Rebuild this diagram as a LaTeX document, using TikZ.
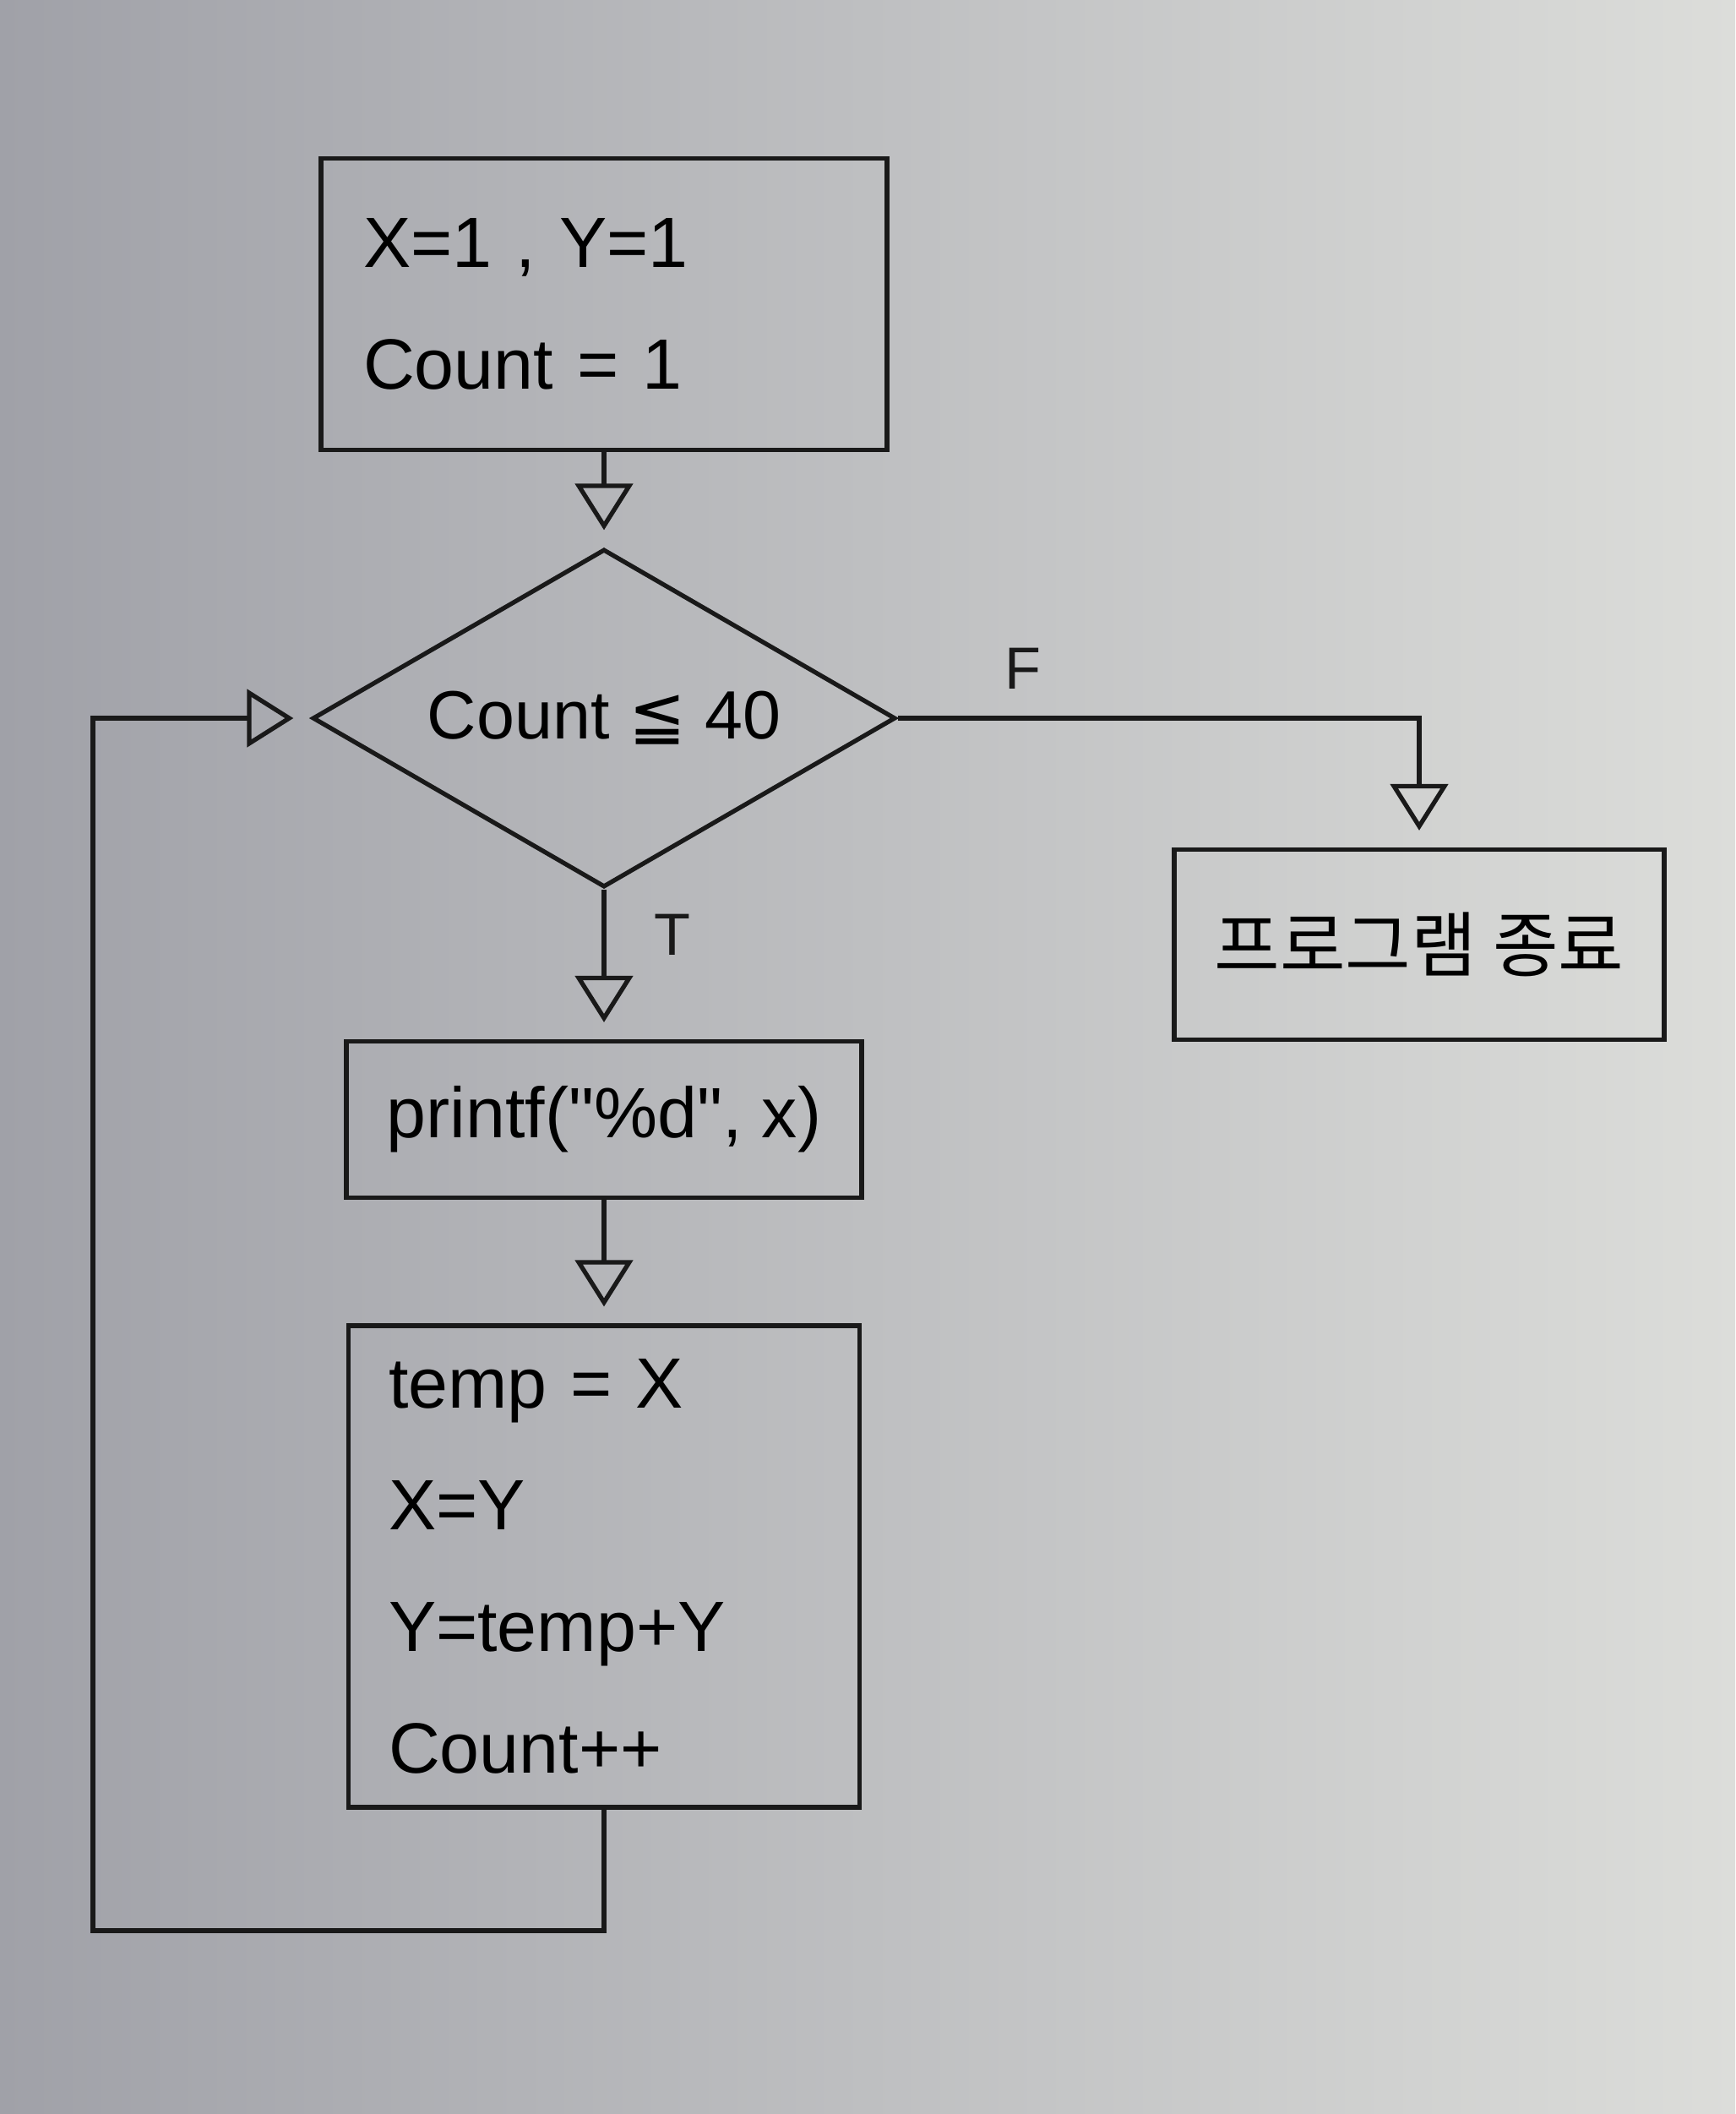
\documentclass[tikz,border=0pt]{standalone}
\usepackage{fontspec}
\setmainfont{Liberation Sans}
\newfontfamily\codefont{Liberation Sans}[Ligatures=TeXOff]
\newfontfamily\krfont{Noto Sans CJK KR}
\newfontfamily\symfont{DejaVu Sans}
\definecolor{PaperDark}{RGB}{160,161,168}
\definecolor{PaperLight}{RGB}{220,221,218}
\colorlet{Ink}{black!90}
\usetikzlibrary{shapes.geometric, arrows.meta, positioning}

\begin{document}
\begin{tikzpicture}[
    box/.style = {draw=Ink, line width=1.5pt, font=\fontsize{24}{41}\selectfont},
    flow/.style = {draw=Ink, line width=1.5pt, -{Triangle[open, length=5.5mm, width=6.8mm]}, shorten >=2mm},
    flag/.style = {font=\fontsize{20}{24}\selectfont, text=Ink},
]

    % paper
    \shade [left color=PaperDark, right color=PaperLight] (0,0) rectangle (20.54,-25.02);
    \useasboundingbox (0,0) rectangle (20.54,-25.02);

    \node [box, minimum width=6.7cm, minimum height=3.45cm, text width=5.7cm, align=left] (init) at (7.15,-3.6) {X=1 , Y=1\\Count = 1};

    \node [diamond, draw=Ink, line width=1.5pt, shape aspect=1.7, minimum width=6.9cm, minimum height=4cm, inner sep=0pt,
           font=\fontsize{23}{27}\selectfont] (cond) at (7.15,-8.5) {Count {\symfont ≦} 40};

    \node [box, minimum width=6.1cm, minimum height=1.85cm, font=\codefont\fontsize{24}{41}\selectfont] (print) at (7.15,-13.25) {printf("\%d", x)};

    \node [box, minimum width=6.05cm, minimum height=5.7cm, text width=5.1cm, align=left] (swap) at (7.15,-18.54)
          {temp = X\\X=Y\\Y=temp+Y\\Count++};

    \node [box, minimum width=5.8cm, minimum height=2.25cm, font=\krfont\fontsize{24}{28}\selectfont] (stop) at (16.8,-11.18) {프로그램 종료};

    \coordinate (loop) at (1.1,-22.85);

    \draw [flow] (init) -- (cond);
    \draw [flow] (cond) -- node [flag, right=4.5mm, pos=0.3] {T} (print);
    \draw [flow] (print) -- (swap);
    \draw [flow] (cond.east) -| node [flag, above=2mm, pos=0.12] {F} (stop.north);
    \draw [flow] (swap.south) |- (loop) |- (cond.west);

\end{tikzpicture}
\end{document}
